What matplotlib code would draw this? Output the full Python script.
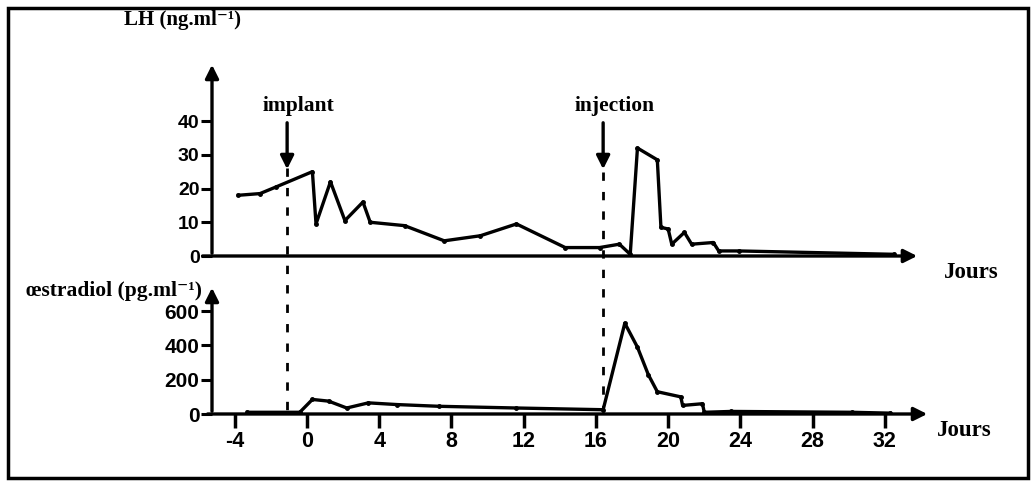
import matplotlib.pyplot as plt
import matplotlib.patches as patches
from matplotlib.transforms import blended_transform_factory

# LH (ng/ml)
lh_days = [-3.8, -2.6, -1.7, 0.3, 0.5, 1.3, 2.1, 3.1, 3.5, 5.4, 7.6, 9.6, 11.6,
           14.3, 16.2, 17.3, 17.9, 18.3, 19.4, 19.6, 20.0, 20.2, 20.9, 21.3,
           22.5, 22.8, 23.9, 32.5]
lh_vals = [18, 18.5, 20.5, 25, 9.5, 22, 10.5, 16, 10, 9, 4.5, 6, 9.5,
           2.5, 2.5, 3.5, 0.5, 32, 28.5, 8.5, 8, 3.5, 7, 3.5,
           4, 1.5, 1.5, 0.5]

# oestradiol (pg/ml)
e2_days = [-3.3, -0.4, 0.3, 1.2, 2.2, 3.4, 5.0, 7.3, 11.6, 16.4, 17.6, 18.3,
           18.9, 19.4, 20.7, 20.8, 21.9, 22.0, 23.5, 30.2, 32.3]
e2_vals = [10, 10, 85, 75, 35, 65, 55, 45, 35, 25, 530, 390,
           230, 130, 100, 50, 60, 10, 15, 10, 5]

lh_ticks = [0, 10, 20, 30, 40]
e2_ticks = [0, 200, 400, 600]
day_ticks = [-4, 0, 4, 8, 12, 16, 20, 24, 28, 32]
implant_day = -1.1
injection_day = 16.4

W, H = 1036, 486
fig = plt.figure(figsize=(W / 100, H / 100), dpi=100)

serif = ['Liberation Serif', 'DejaVu Serif']
sans = ['Liberation Sans', 'DejaVu Sans']
xlim = (-5.26, 34.5)

def fx(px):
    return px / W

def fy(py):
    return 1 - py / H

ax1 = fig.add_axes([fx(212), fy(256), fx(930) - fx(212), fy(62) - fy(256)])
ax2 = fig.add_axes([fx(212), fy(414), fx(930) - fx(212), fy(285) - fy(414)])

for ax in (ax1, ax2):
    ax.set_xlim(*xlim)
    for s in ax.spines.values():
        s.set_visible(False)
    ax.patch.set_alpha(0)

arrow = dict(arrowstyle='-|>', lw=2.4, color='black', mutation_scale=20)

# panneau LH
ax1.set_ylim(0, 57.5)
ax1.plot(lh_days, lh_vals, color='black', lw=2.4, marker='o', ms=2.5)
ax1.set_yticks(lh_ticks)
ax1.set_yticklabels([str(t) for t in lh_ticks], fontsize=14, fontweight='bold', family=sans)
ax1.tick_params(axis='y', length=8, width=2.2, pad=1)
ax1.set_xticks([])
ax1.annotate('', xy=(0, 1), xytext=(0, 0), xycoords='axes fraction', arrowprops=arrow)
ax1.annotate('', xy=(0.986, 0), xytext=(-0.017, 0), xycoords='axes fraction', arrowprops=arrow)

# panneau oestradiol
ax2.set_ylim(0, 753)
ax2.plot(e2_days, e2_vals, color='black', lw=2.4, marker='o', ms=2.5)
ax2.set_yticks(e2_ticks)
ax2.set_yticklabels([str(t) for t in e2_ticks], fontsize=15, fontweight='bold', family=sans)
ax2.tick_params(axis='y', length=8, width=2.2, pad=1)
ax2.set_xticks(day_ticks)
ax2.set_xticklabels([str(t) for t in day_ticks], fontsize=15.5, fontweight='bold', family=sans)
ax2.tick_params(axis='x', length=10, width=2.5, pad=2)
ax2.annotate('', xy=(0, 1), xytext=(0, 0), xycoords='axes fraction', arrowprops=arrow)
ax2.annotate('', xy=(1, 0), xytext=(-0.01, 0), xycoords='axes fraction', arrowprops=arrow)

# pointillés implant / injection
tr = blended_transform_factory(ax2.transData, fig.transFigure)
for d, top in ((implant_day, 168), (injection_day, 172)):
    fig.add_artist(plt.Line2D([d, d], [fy(top), fy(412)], transform=tr,
                              color='black', lw=2, ls=(0, (3, 4))))
tr1 = blended_transform_factory(ax1.transData, fig.transFigure)
for d, lab in ((implant_day, 'implant'), (injection_day, 'injection')):
    ax1.annotate('', xy=(d, fy(172)), xytext=(d, fy(120)), xycoords=tr1, arrowprops=arrow)
    ax1.text(d + 0.65, fy(106), lab, transform=tr1, ha='center', va='center',
             fontsize=15.5, fontweight='bold', family=serif)

fig.text(fx(182), fy(20), 'LH (ng.ml⁻¹)', ha='center', va='center',
         fontsize=15, fontweight='bold', family=serif)
fig.text(fx(26), fy(291), 'œstradiol (pg.ml⁻¹)', ha='left', va='center',
         fontsize=15.5, fontweight='bold', family=serif)
fig.text(fx(944), fy(272), 'Jours', ha='left', va='center',
         fontsize=16.5, fontweight='bold', family=serif)
fig.text(fx(937), fy(430), 'Jours', ha='left', va='center',
         fontsize=16.5, fontweight='bold', family=serif)

fig.add_artist(patches.Rectangle((fx(8), fy(478)), fx(1020), 470 / H,
                                 transform=fig.transFigure, fill=False,
                                 lw=2.5, edgecolor='black'))

fig.savefig('out.png', dpi=100)
